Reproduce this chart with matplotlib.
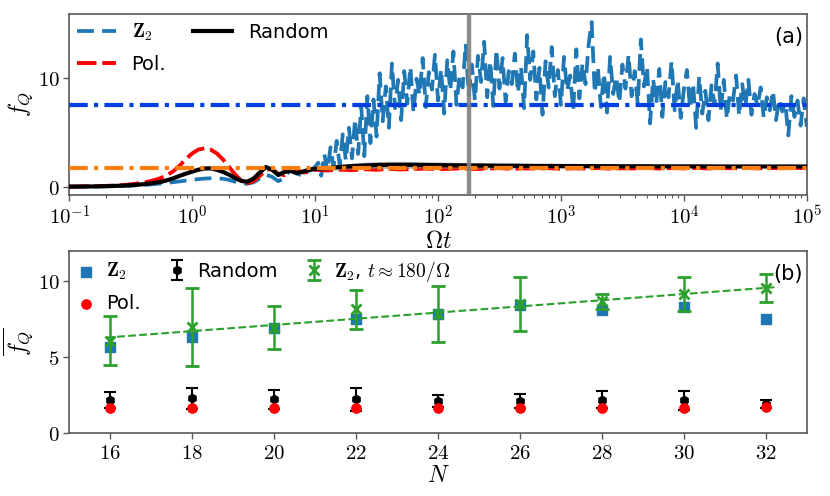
import numpy as np
import matplotlib
matplotlib.use("Agg")
import matplotlib.pyplot as plt
from matplotlib.ticker import FixedLocator, FuncFormatter, LogLocator, NullFormatter

plt.rcParams['mathtext.fontset'] = 'cm'
plt.rcParams['font.family'] = ['DejaVu Sans']

#******************************************** data: panel (a) ********************************************************#
# sample times (log10 of Omega t)
t_early = np.logspace(-1, 1, 41)
t_z2_late = np.logspace(1.025, 5, 160)
t_late = np.logspace(1.1, 5, 40)

z2_early = [0.00, 0.00, 0.01, 0.01, 0.02, 0.02, 0.03, 0.04, 0.05, 0.07,
            0.09, 0.12, 0.15, 0.19, 0.24, 0.29, 0.35, 0.42, 0.49, 0.56,
            0.63, 0.69, 0.74, 0.77, 0.77, 0.72, 0.62, 0.45, 0.30, 0.26,
            0.40, 0.75, 1.10, 0.90, 0.50, 0.80, 1.55, 1.20, 1.00, 1.45, 1.80]
z2_late = [2.2, 1.0, 3.0, 1.4, 3.6, 1.8, 4.2, 2.0, 4.8, 2.4,
           5.4, 2.6, 6.2, 3.0, 7.4, 2.8, 8.3, 4.0, 8.0, 4.6,
           10.4, 6.0, 9.2, 5.4, 11.3, 7.2, 9.8, 6.1, 10.6, 7.6,
           11.0, 6.8, 9.9, 8.4, 11.8, 7.3, 10.5, 8.9, 12.1, 7.9,
           10.8, 6.7, 11.6, 8.8, 12.4, 7.5, 10.2, 9.1, 13.1, 8.4,
           11.2, 7.9, 12.0, 9.6, 13.3, 8.2, 11.5, 7.4, 12.6, 9.0,
           11.8, 7.8, 10.6, 9.4, 12.2, 8.6, 11.0, 7.2, 13.9, 9.8,
           12.4, 8.0, 10.9, 6.6, 11.5, 9.1, 12.8, 8.3, 10.7, 7.5,
           11.9, 8.8, 10.2, 7.0, 12.6, 8.1, 11.3, 9.4, 13.0, 15.1,
           8.6, 11.0, 7.3, 10.4, 6.8, 11.9, 8.5, 10.1, 7.7, 11.2,
           9.0, 12.1, 8.3, 10.6, 7.6, 13.5, 9.2, 11.0, 5.8, 9.9,
           7.6, 10.8, 6.4, 9.6, 8.2, 11.5, 7.0, 9.8, 6.3, 8.9,
           10.7, 7.2, 9.5, 5.4, 10.1, 6.7, 8.8, 6.1, 9.3, 7.5,
           11.3, 7.0, 9.8, 6.2, 8.6, 7.9, 10.2, 6.5, 9.4, 7.3,
           9.8, 6.6, 8.5, 7.4, 9.1, 6.3, 8.2, 7.0, 8.8, 6.1,
           8.0, 6.9, 7.7, 4.7, 8.3, 6.4, 7.9, 5.6, 8.1, 5.5]

pol_early = [0.00, 0.01, 0.02, 0.03, 0.04, 0.05, 0.07, 0.09, 0.12, 0.16,
             0.21, 0.28, 0.37, 0.48, 0.62, 0.82, 1.08, 1.45, 1.95, 2.55,
             3.05, 3.40, 3.52, 3.40, 3.05, 2.50, 1.80, 1.10, 0.55, 0.32,
             0.50, 0.98, 1.55, 1.62, 1.18, 1.05, 1.45, 1.55, 1.30, 1.35, 1.55]
pol_late = [1.48, 1.56, 1.52, 1.60, 1.55, 1.63, 1.58, 1.62, 1.66, 1.60,
            1.64, 1.68, 1.62, 1.66, 1.70, 1.63, 1.68, 1.65, 1.70, 1.64,
            1.68, 1.66, 1.71, 1.65, 1.69, 1.67, 1.72, 1.66, 1.70, 1.68,
            1.72, 1.67, 1.70, 1.69, 1.73, 1.68, 1.71, 1.69, 1.72, 1.70]

rand_early = [0.00, 0.005, 0.01, 0.015, 0.02, 0.03, 0.04, 0.06, 0.08, 0.10,
              0.13, 0.17, 0.22, 0.28, 0.36, 0.45, 0.60, 0.78, 1.00, 1.20,
              1.38, 1.55, 1.67, 1.68, 1.55, 1.35, 1.10, 0.78, 0.52, 0.46,
              0.75, 1.30, 1.80, 1.55, 1.07, 1.35, 1.45, 1.25, 1.38, 1.55, 1.62]
rand_late = [1.70, 1.80, 1.88, 1.94, 1.98, 2.00, 2.00, 2.00, 1.98, 1.97,
             1.96, 1.95, 1.94, 1.93, 1.92, 1.92, 1.91, 1.90, 1.90, 1.89,
             1.89, 1.88, 1.88, 1.88, 1.87, 1.87, 1.87, 1.86, 1.86, 1.86,
             1.86, 1.86, 1.85, 1.85, 1.85, 1.85, 1.85, 1.85, 1.85, 1.85]
rand_spread_early = [0.00, 0.00, 0.00, 0.00, 0.00, 0.00, 0.00, 0.00, 0.00, 0.00,
                     0.01, 0.01, 0.02, 0.02, 0.03, 0.03, 0.04, 0.05, 0.05, 0.06,
                     0.07, 0.08, 0.08, 0.09, 0.09, 0.10, 0.10, 0.10, 0.09, 0.09,
                     0.10, 0.11, 0.12, 0.12, 0.12, 0.12, 0.13, 0.13, 0.14, 0.15, 0.16]
rand_spread_late = [0.20, 0.25, 0.28, 0.30, 0.31, 0.32, 0.32, 0.31, 0.30, 0.29,
                    0.28, 0.27, 0.26, 0.25, 0.24, 0.23, 0.22, 0.21, 0.20, 0.19,
                    0.18, 0.17, 0.16, 0.15, 0.15, 0.14, 0.13, 0.13, 0.12, 0.12,
                    0.11, 0.11, 0.10, 0.10, 0.10, 0.09, 0.09, 0.09, 0.08, 0.08]

z2_avg = 7.5
pol_avg = 1.69
t_mark = 180
t_ticks = [1e-1, 1e0, 1e1, 1e2, 1e3, 1e4, 1e5]

#******************************************** data: panel (b) ********************************************************#
N = [16, 18, 20, 22, 24, 26, 28, 30, 32]
z2_mean = [5.68, 6.34, 6.89, 7.51, 7.84, 8.44, 8.10, 8.28, 7.51]
pol_mean = [1.64, 1.62, 1.64, 1.65, 1.64, 1.65, 1.64, 1.65, 1.72]
rand_mean = [2.17, 2.28, 2.21, 2.23, 2.10, 2.10, 2.19, 2.15, 1.92]
rand_err = [0.53, 0.70, 0.64, 0.75, 0.38, 0.44, 0.55, 0.65, 0.27]
z2t_mean = [6.09, 7.02, 6.93, 8.15, 7.86, 8.52, 8.68, 9.17, 9.56]
z2t_err = [1.62, 2.57, 1.42, 1.28, 1.86, 1.79, 0.49, 1.12, 0.94]
fit_N = [15.9, 32.3]
fit_vals = [6.29, 9.63]

#******************************************** plot ********************************************************************#
fig = plt.figure(figsize=(8.3, 4.96), dpi=100)
ax1 = fig.add_axes([0.0835, 0.607, 0.8885, 0.365])
ax2 = fig.add_axes([0.0835, 0.127, 0.8885, 0.367])
ax1.set_zorder(2)

edge = '0.35'
for ax in (ax1, ax2):
    for sp in ax.spines.values():
        sp.set_color(edge)
        sp.set_linewidth(1.2)
    ax.tick_params(which='major', length=4.5, width=1, labelsize=15, color=edge, pad=2.5)
    ax.tick_params(which='minor', length=2.5, width=0.8, color=edge)

t_pol = np.concatenate([t_early, t_late])
t_z2 = np.concatenate([t_early, t_z2_late])
z2 = np.array(z2_early + z2_late)
pol = np.array(pol_early + pol_late)
rnd = np.array(rand_early + rand_late)
spread = np.array(rand_spread_early + rand_spread_late)

l_z2, = ax1.plot(t_z2, z2, color='#1f77b4', lw=2.7, dashes=(4.5, 2.2), label=r'$\mathbf{Z}_2$', zorder=2)
l_pol, = ax1.plot(t_pol, pol, color='red', lw=2.8, dashes=(5, 1.5), label='Pol.', zorder=3)
ax1.fill_between(t_pol, rnd - spread, rnd + spread, color='gray', alpha=0.6, lw=0, zorder=3)
l_rnd, = ax1.plot(t_pol, rnd, color='black', lw=3, label='Random', zorder=4)
ax1.axhline(z2_avg, color='#0040e0', lw=3, dashes=(4.5, 1.5, 1, 1.5), zorder=5)
ax1.axhline(pol_avg, color='#ff7f0e', lw=3, dashes=(4.5, 1.5, 1, 1.5), zorder=5)
ax1.axvline(t_mark, color='gray', lw=3.2, alpha=0.9, zorder=6)

ax1.set_xscale('log')
ax1.set_xlim(1e-1, 1e5)
ax1.set_ylim(-0.76, 15.85)
ax1.xaxis.set_major_locator(FixedLocator(t_ticks))
ax1.xaxis.set_minor_locator(LogLocator(base=10, subs=np.arange(2, 10), numticks=20))
ax1.xaxis.set_minor_formatter(NullFormatter())
ax1.xaxis.set_major_formatter(FuncFormatter(lambda v, p: r'$10^{%d}$' % round(np.log10(v))))
ax1.yaxis.set_major_locator(FixedLocator([0, 10]))
ax1.yaxis.set_major_formatter(FuncFormatter(lambda v, p: r'$%d$' % v))
ax1.set_xlabel(r'$\Omega t$', fontsize=17, labelpad=0)
ax1.set_ylabel(r'$f_Q$', fontsize=17, labelpad=2)
ax1.legend(handles=[l_z2, l_pol, l_rnd], loc='upper left', ncol=2, frameon=False,
           fontsize=14, handlelength=2.0, columnspacing=1.4, borderaxespad=0.1,
           borderpad=0.3, labelspacing=0.6)
ax1.text(0.995, 0.93, '(a)', transform=ax1.transAxes, ha='right', va='top', fontsize=15)

# panel (b)
h_z2 = ax2.scatter(N, z2_mean, marker='s', s=42, color='#1f77b4', zorder=2, label=r'$\mathbf{Z}_2$')
h_rnd = ax2.errorbar(N, rand_mean, yerr=rand_err, fmt='h', color='black', ms=6,
                     capsize=4, elinewidth=1.5, capthick=1.5, zorder=2, label='Random')
h_pol = ax2.scatter(N, pol_mean, marker='o', s=45, color='red', zorder=3, label='Pol.')
ax2.plot(fit_N, fit_vals, color='#2ca02c', lw=1.5, ls='--', zorder=3)
h_z2t = ax2.errorbar(N, z2t_mean, yerr=z2t_err, fmt='x', color='#2ca02c', ms=7, mew=2,
                     capsize=5, elinewidth=1.8, capthick=1.8, zorder=4,
                     label=r'$\mathbf{Z}_2$, $t{\approx}180/\Omega$')

ax2.set_xlim(15, 33)
ax2.set_ylim(0, 12)
ax2.xaxis.set_major_locator(FixedLocator(N))
ax2.xaxis.set_major_formatter(FuncFormatter(lambda v, p: r'$%d$' % v))
ax2.yaxis.set_major_locator(FixedLocator([0, 5, 10]))
ax2.yaxis.set_major_formatter(FuncFormatter(lambda v, p: r'$%d$' % v))
ax2.set_xlabel(r'$N$', fontsize=17, labelpad=0)
ax2.set_ylabel(r'$\overline{f_Q}$', fontsize=17, labelpad=2)
ax2.legend(handles=[h_z2, h_pol, h_rnd, h_z2t], loc='upper left', ncol=3, frameon=False,
           fontsize=14, handlelength=0.9, handletextpad=0.6, columnspacing=1.4,
           borderaxespad=0.1, borderpad=0.3, labelspacing=0.6, scatterpoints=1, numpoints=1)
ax2.text(0.995, 0.93, '(b)', transform=ax2.transAxes, ha='right', va='top', fontsize=15)

fig.savefig('out.png', dpi=100)
